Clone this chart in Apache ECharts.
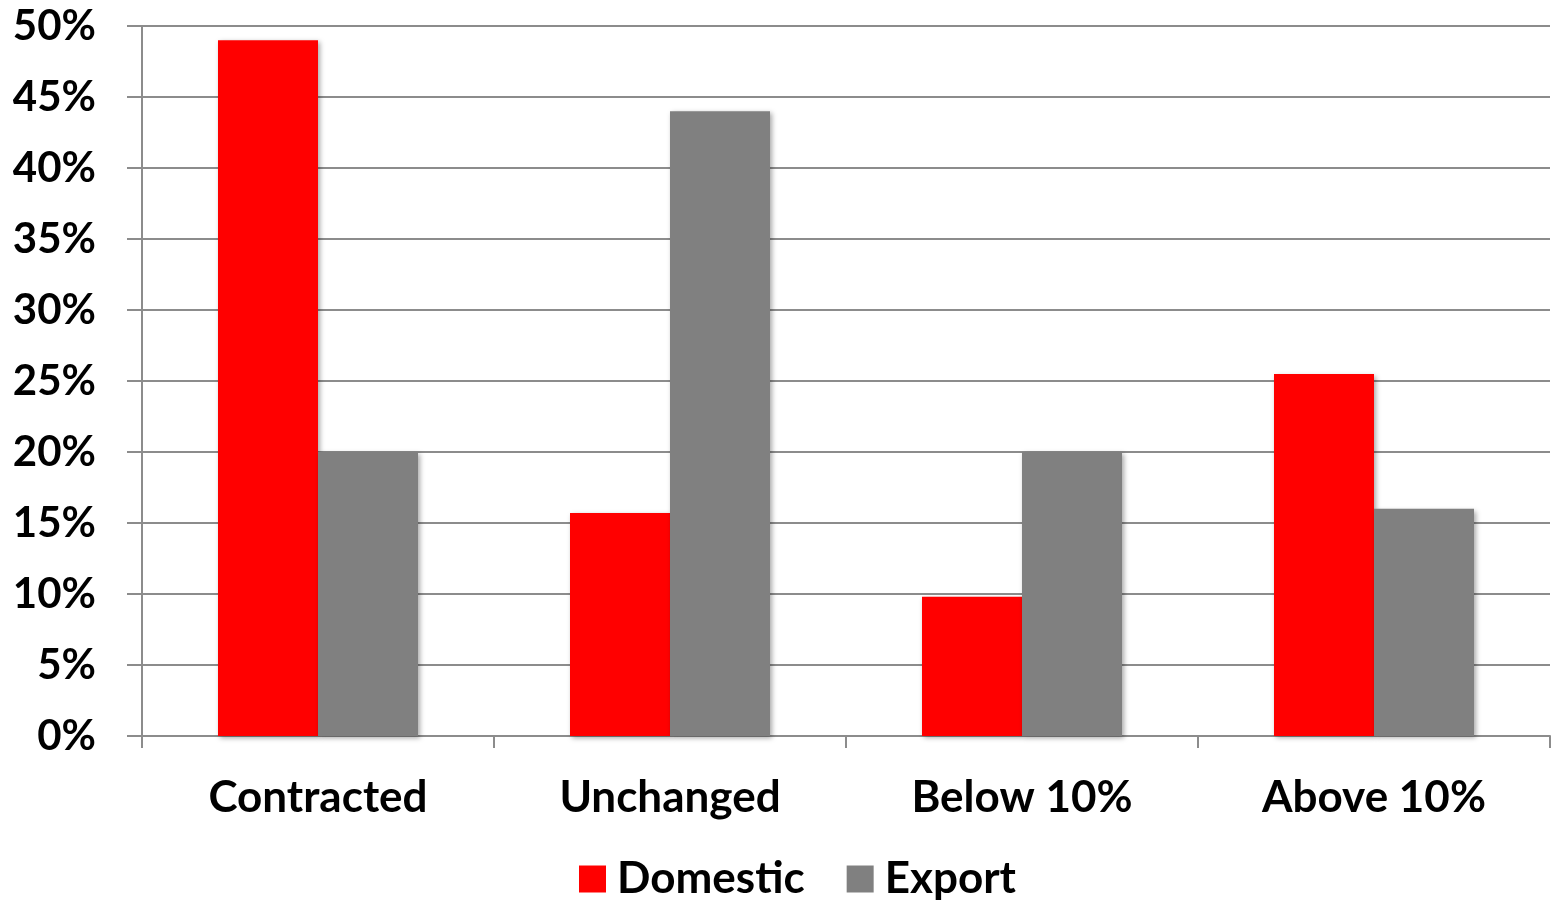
<!DOCTYPE html>
<html>
<head>
<meta charset="utf-8">
<script src="https://cdn.jsdelivr.net/npm/echarts@6/dist/echarts.min.js"></script>
<style>
  html, body { margin: 0; padding: 0; background: #fff; }
  #chart { width: 1555px; height: 902px; }
</style>
</head>
<body>
<div id="chart"></div>
<script>
// Share of respondents by sales change, domestic vs export
const categories = ['Contracted', 'Unchanged', 'Below 10%', 'Above 10%'];
const domestic = [49, 15.7, 9.8, 25.5];
const exportVals = [20, 44, 20, 16];
const seriesNames = ['Domestic', 'Export'];

const FONT = 'Lato';
const GRID_COLOR = '#8c8c8c';

const barShadow = {
  shadowBlur: 5,
  shadowOffsetX: 2,
  shadowOffsetY: 2,
  shadowColor: 'rgba(0,0,0,0.35)'
};

const chart = echarts.init(document.getElementById('chart'));
chart.setOption({
  animation: false,
  backgroundColor: '#ffffff',
  grid: { left: 142, right: 5, top: 26, bottom: 166 },
  legend: {
    data: seriesNames,
    bottom: -4,
    left: 574,
    itemWidth: 27,
    itemHeight: 27,
    itemGap: 42,
    icon: 'rect',
    textStyle: {
      fontFamily: FONT, fontWeight: 'bold', fontSize: 44, color: '#000',
      padding: [0, 0, 0, 6]
    }
  },
  xAxis: {
    type: 'category',
    data: categories,
    axisLine: { lineStyle: { color: GRID_COLOR, width: 2 } },
    axisTick: { show: true, length: 12, inside: false, lineStyle: { color: GRID_COLOR, width: 2 } },
    axisLabel: { margin: 40, fontFamily: FONT, fontWeight: 'bold', fontSize: 44, color: '#000' }
  },
  yAxis: {
    type: 'value',
    min: 0,
    max: 50,
    interval: 5,
    axisLine: { show: true, lineStyle: { color: GRID_COLOR, width: 2 } },
    axisTick: { show: true, length: 15, lineStyle: { color: GRID_COLOR, width: 2 } },
    splitLine: { show: true, lineStyle: { color: GRID_COLOR, width: 2 } },
    axisLabel: {
      margin: 46,
      fontFamily: FONT,
      fontWeight: 'bold',
      fontSize: 42,
      color: '#000',
      formatter: v => v + '%'
    }
  },
  series: [
    {
      name: seriesNames[0],
      type: 'bar',
      data: domestic,
      barWidth: 100,
      barGap: '0%',
      itemStyle: Object.assign({ color: '#ff0000' }, barShadow)
    },
    {
      name: seriesNames[1],
      type: 'bar',
      data: exportVals,
      barWidth: 100,
      barGap: '0%',
      itemStyle: Object.assign({ color: '#808080' }, barShadow)
    }
  ]
});
</script>
</body>
</html>
